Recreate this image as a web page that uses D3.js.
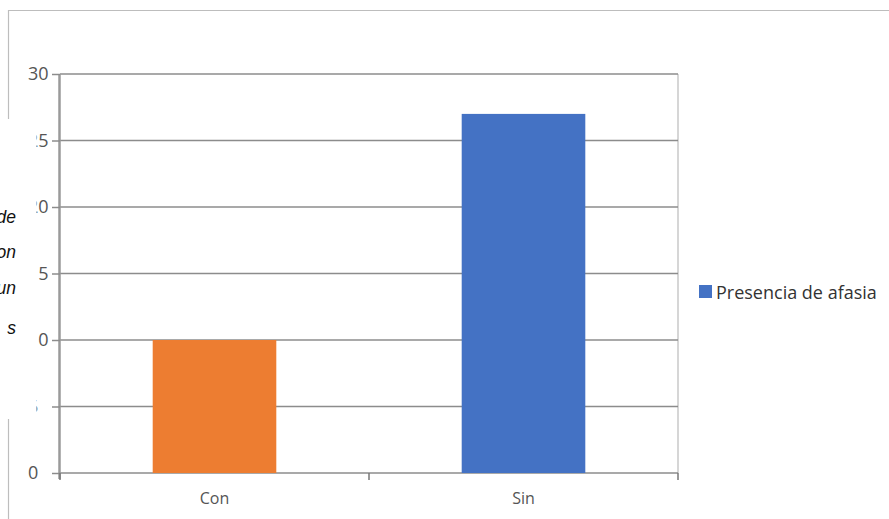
<!DOCTYPE html>
<html>
<head>
<meta charset="utf-8">
<script src="https://cdn.jsdelivr.net/npm/d3@7"></script>
<style>
  html, body { margin: 0; padding: 0; background: #fff; }
  svg { display: block; }
</style>
</head>
<body>
<svg id="chart" width="889" height="519"></svg>
<script>
// Data
const categories = ["Con", "Sin"];
const values = [10, 27];
const barColors = ["#ED7D31", "#4472C4"];
const yTicks = [0, 5, 10, 15, 20, 25, 30];
const legendLabels = ["Presencia de afasia"];
const sideText = ["de", "on", "un", "s"];

const svg = d3.select("#chart");
const W = 889, H = 519;
const m = { left: 60, right: 678, top: 74, bottom: 473 };
const font = "'Open Sans', 'Noto Sans', sans-serif";

// Outer frame pieces
const frame = svg.append("g").attr("stroke", "#bdbdbd").attr("stroke-width", 1.2).attr("fill", "none");
frame.append("line").attr("x1", 8).attr("x2", W).attr("y1", 10.5).attr("y2", 10.5);
frame.append("line").attr("x1", 8.5).attr("x2", 8.5).attr("y1", 10).attr("y2", 119);
frame.append("line").attr("x1", 8.5).attr("x2", 8.5).attr("y1", 419).attr("y2", H);

const x = d3.scaleBand().domain(categories).range([m.left, m.right]).paddingInner(0.6).paddingOuter(0.3);
const y = d3.scaleLinear().domain([0, 30]).range([m.bottom, m.top]);

// Right border of plot area
svg.append("line")
  .attr("x1", m.right).attr("x2", m.right)
  .attr("y1", m.top).attr("y2", m.bottom)
  .attr("stroke", "#c8c8c8").attr("stroke-width", 1.5);

// Horizontal gridlines
svg.append("g").selectAll("line").data(yTicks).join("line")
  .attr("x1", m.left).attr("x2", m.right)
  .attr("y1", d => y(d)).attr("y2", d => y(d))
  .attr("stroke", "#8c8c8c").attr("stroke-width", 1.5);

// Bars
svg.append("g").selectAll("rect").data(categories).join("rect")
  .attr("x", d => x(d))
  .attr("width", x.bandwidth())
  .attr("y", (d, i) => y(values[i]))
  .attr("height", (d, i) => y(0) - y(values[i]))
  .attr("fill", (d, i) => barColors[i]);

// Y axis (labels left-aligned in a fixed column)
const yAxis = d3.axisLeft(y).tickValues(yTicks).tickSize(8);
const gy = svg.append("g").attr("transform", `translate(${m.left},0)`).call(yAxis);
gy.select(".domain").attr("stroke", "#9a9a9a").attr("stroke-width", 2.5)
  .attr("d", `M-0.5,${m.top}V${m.bottom + 6}`);
gy.selectAll(".tick line").attr("stroke", "#8c8c8c").attr("stroke-width", 1.5);
gy.selectAll(".tick text")
  .attr("x", 28 - m.left)
  .attr("text-anchor", "start")
  .attr("font-family", font)
  .attr("font-size", 18).attr("fill", "#555");

// X axis: boundary ticks between categories
const bounds = [m.left, (m.left + m.right) / 2, m.right];
svg.append("g").selectAll("line").data(bounds).join("line")
  .attr("x1", d => d).attr("x2", d => d)
  .attr("y1", m.bottom).attr("y2", m.bottom + 7)
  .attr("stroke", "#777").attr("stroke-width", 1.5);

svg.append("g").selectAll("text").data(categories).join("text")
  .attr("x", d => x(d) + x.bandwidth() / 2)
  .attr("y", 504)
  .attr("text-anchor", "middle")
  .attr("font-family", font)
  .attr("font-size", 16).attr("fill", "#555")
  .text(d => d);

// Legend
const lg = svg.append("g").attr("transform", "translate(699,285)");
lg.selectAll("rect").data(legendLabels).join("rect")
  .attr("width", 13).attr("height", 13).attr("fill", barColors[1]);
lg.selectAll("text").data(legendLabels).join("text")
  .attr("x", 17).attr("y", 14)
  .attr("font-family", font)
  .attr("font-size", 18).attr("fill", "#333")
  .text(d => d);

// Overlapping page text on the left edge
svg.append("rect").attr("x", 0).attr("y", 119).attr("width", 36.5).attr("height", 300).attr("fill", "#fff");
svg.append("g").selectAll("text").data(sideText).join("text")
  .attr("x", 16)
  .attr("y", (d, i) => [223, 258, 294, 334][i])
  .attr("text-anchor", "end")
  .attr("font-family", "'Liberation Sans', Arial, sans-serif")
  .attr("font-style", "italic")
  .attr("font-size", 17.5).attr("fill", "#111")
  .text(d => d);
</script>
</body>
</html>
